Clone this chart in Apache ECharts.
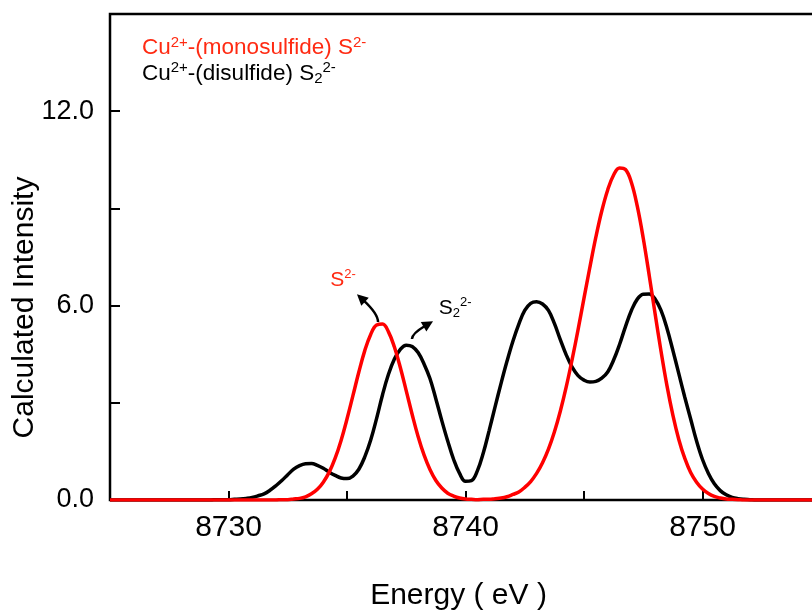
<!DOCTYPE html>
<html>
<head>
<meta charset="utf-8">
<script src="https://cdn.jsdelivr.net/npm/echarts@6/dist/echarts.min.js"></script>
<style>
  html, body { margin: 0; padding: 0; background: #fff; }
  #main { width: 812px; height: 610px; }
</style>
</head>
<body>
<div id="main"></div>
<script>
// energy grid (eV), 0.25 eV steps where the spectra are non-zero
const energy = [
  8725, 8727,
  8729, 8729.25, 8729.5, 8729.75,
  8730, 8730.25, 8730.5, 8730.75,
  8731, 8731.25, 8731.5, 8731.75,
  8732, 8732.25, 8732.5, 8732.75,
  8733, 8733.25, 8733.5, 8733.75,
  8734, 8734.25, 8734.5, 8734.75,
  8735, 8735.25, 8735.5, 8735.75,
  8736, 8736.25, 8736.5, 8736.75,
  8737, 8737.25, 8737.5, 8737.75,
  8738, 8738.25, 8738.5, 8738.75,
  8739, 8739.25, 8739.5, 8739.75,
  8740, 8740.25, 8740.5, 8740.75,
  8741, 8741.25, 8741.5, 8741.75,
  8742, 8742.25, 8742.5, 8742.75,
  8743, 8743.25, 8743.5, 8743.75,
  8744, 8744.25, 8744.5, 8744.75,
  8745, 8745.25, 8745.5, 8745.75,
  8746, 8746.25, 8746.5, 8746.75,
  8747, 8747.25, 8747.5, 8747.75,
  8748, 8748.25, 8748.5, 8748.75,
  8749, 8749.25, 8749.5, 8749.75,
  8750, 8750.25, 8750.5, 8750.75,
  8751, 8751.25, 8751.5, 8751.75,
  8752, 8752.25, 8752.5, 8752.75,
  8753, 8755
]
// Cu2+-(monosulfide) S2-  (red)
const monoS = [
  0, 0,
  0, 0, 0, 0,
  0, 0, 0, 0,
  0, 0, 0, 0,
  0, 0.01, 0.01, 0.03,
  0.05, 0.10, 0.19, 0.33,
  0.55, 0.86, 1.29, 1.84,
  2.5, 3.22, 3.95, 4.61,
  5.11, 5.40, 5.43, 5.19,
  4.72, 4.09, 3.37, 2.64,
  1.96, 1.39, 0.94, 0.60,
  0.37, 0.21, 0.12, 0.06,
  0.03, 0.02, 0.01, 0.02,
  0.02, 0.04, 0.06, 0.10,
  0.17, 0.25, 0.39, 0.57,
  0.82, 1.15, 1.57, 2.10,
  2.74, 3.49, 4.34, 5.26,
  6.23, 7.19, 8.11, 8.92,
  9.57, 10.03, 10.25, 10.20,
  9.8, 9.06, 8.08, 6.94,
  5.75, 4.59, 3.53, 2.62,
  1.87, 1.29, 0.85, 0.55,
  0.34, 0.20, 0.11, 0.06,
  0.03, 0.02, 0.01, 0,
  0, 0, 0, 0,
  0, 0
]
// Cu2+-(disulfide) S2 2-  (black)
const diS = [
  0, 0,
  0, 0, 0.01, 0.01,
  0.01, 0.02, 0.03, 0.05,
  0.08, 0.13, 0.19, 0.3,
  0.44, 0.6, 0.78, 0.95,
  1.06, 1.12, 1.13, 1.07,
  0.98, 0.86, 0.76, 0.68,
  0.66, 0.74, 0.95, 1.33,
  1.85, 2.52, 3.25, 3.88,
  4.35, 4.65, 4.78, 4.74,
  4.55, 4.2, 3.75, 3.12,
  2.45, 1.82, 1.25, 0.82,
  0.58, 0.6, 0.9, 1.45,
  2.15, 2.88, 3.6, 4.28,
  4.9, 5.43, 5.85, 6.07,
  6.12, 6.05, 5.85, 5.45,
  4.95, 4.48, 4.1, 3.84,
  3.7, 3.64, 3.66, 3.76,
  3.95, 4.32, 4.8, 5.35,
  5.85, 6.2, 6.35, 6.36,
  6.2, 5.85, 5.3, 4.62,
  3.9, 3.18, 2.5, 1.82,
  1.25, 0.82, 0.5, 0.29,
  0.16, 0.08, 0.04, 0.02,
  0.01, 0, 0, 0,
  0, 0
]
const xLabelValues = [8730, 8740, 8750]
const yLabelValues = [0, 6, 12]

// annotation arrows: [tail energy, tail intensity, head energy, head intensity]
const arrows = [
  [8736.31, 5.49, 8735.42, 6.35],
  [8737.74, 4.97, 8738.63, 5.52]
]
// annotation label positions: [energy, intensity]
const monoLabelPos = [8734.83, 6.79]
const diLabelPos = [8739.56, 5.92]

const seriesNames = ['Cu2+-(monosulfide) S2-', 'Cu2+-(disulfide) S22-']
const legendRich = {
  'Cu2+-(monosulfide) S2-': '{r|Cu}{rs|2+}{r|-(monosulfide) S}{rs|2-}',
  'Cu2+-(disulfide) S22-': '{k|Cu}{ks|2+}{k|-(disulfide) S}{kb|2}{ks|2-}'
}

const RED = '#ff0000'
const RED_TEXT = '#ff2a12'
const FONT = '"Liberation Sans", Arial, sans-serif'

const chart = echarts.init(document.getElementById('main'), null, { renderer: 'canvas' })

// curved arrow: leaves the tail straight up, bends toward the head
function renderArrow(params, api) {
  const p1 = api.coord([api.value(0), api.value(1)])
  const p2 = api.coord([api.value(2), api.value(3)])
  const cp = [p1[0], p1[1] - 0.3 * (p1[1] - p2[1])]
  let dx = p2[0] - cp[0], dy = p2[1] - cp[1]
  const len = Math.sqrt(dx * dx + dy * dy) || 1
  dx /= len; dy /= len
  const L = 11, W = 5.5
  const bx = p2[0] - dx * L, by = p2[1] - dy * L
  return {
    type: 'group',
    children: [
      {
        type: 'bezierCurve',
        shape: { x1: p1[0], y1: p1[1], x2: bx + dx * 2, y2: by + dy * 2, cpx1: cp[0], cpy1: cp[1] },
        style: { stroke: '#000', lineWidth: 2.5, fill: null }
      },
      {
        type: 'polygon',
        shape: { points: [[p2[0], p2[1]], [bx - dy * W, by + dx * W], [bx + dy * W, by - dx * W]] },
        style: { fill: '#000', stroke: null }
      }
    ]
  }
}

const option = {
  animation: false,
  backgroundColor: '#fff',
  textStyle: { fontFamily: FONT },
  grid: {
    left: 110, right: -9, top: 14, bottom: 110,
    show: true, borderColor: '#000', borderWidth: 2.5,
    outerBoundsMode: 'none'
  },
  legend: {
    orient: 'vertical',
    left: 132, top: 30,
    itemGap: 1,
    icon: 'none',
    itemWidth: 0, itemHeight: 0,
    selectedMode: false,
    data: seriesNames,
    formatter: name => legendRich[name],
    textStyle: {
      rich: {
        r: { color: RED_TEXT, fontSize: 22.5, lineHeight: 26, fontFamily: FONT },
        rs: { color: RED_TEXT, fontSize: 15, lineHeight: 15, verticalAlign: 'top', fontFamily: FONT },
        k: { color: '#000', fontSize: 22.5, lineHeight: 26, fontFamily: FONT },
        ks: { color: '#000', fontSize: 15, lineHeight: 15, verticalAlign: 'top', fontFamily: FONT },
        kb: { color: '#000', fontSize: 15, lineHeight: 15, verticalAlign: 'bottom', fontFamily: FONT }
      }
    }
  },
  xAxis: {
    type: 'value',
    min: 8725, max: 8755, interval: 5,
    name: 'Energy ( eV )',
    nameLocation: 'middle',
    nameGap: 81,
    nameMoveOverlap: false,
    nameTextStyle: { fontSize: 30, color: '#000', fontFamily: FONT, padding: [0, 14, 0, 0] },
    axisLine: { onZero: false, lineStyle: { color: '#000', width: 2 } },
    axisTick: { inside: true, length: 9, lineStyle: { color: '#000', width: 2 } },
    axisLabel: {
      fontSize: 30, color: '#000', margin: 13, fontFamily: FONT,
      formatter: v => xLabelValues.includes(v) ? String(v) : ''
    },
    splitLine: { show: false }
  },
  yAxis: {
    type: 'value',
    min: 0, max: 15, interval: 3,
    name: 'Calculated Intensity',
    nameLocation: 'middle',
    nameRotate: 90,
    nameGap: 70,
    nameMoveOverlap: false,
    nameTextStyle: { fontSize: 30, color: '#000', fontFamily: FONT, padding: [0, 101, 0, 0] },
    axisLine: { lineStyle: { color: '#000', width: 2 } },
    axisTick: { inside: true, length: 10, lineStyle: { color: '#000', width: 2 } },
    axisLabel: {
      fontSize: 27, color: '#000', margin: 16, fontFamily: FONT,
      formatter: v => yLabelValues.includes(v) ? v.toFixed(1) : ''
    },
    splitLine: { show: false }
  },
  series: [
    {
      name: seriesNames[1],
      type: 'line',
      z: 2,
      data: energy.map((e, i) => [e, diS[i]]),
      smooth: 0.4,
      showSymbol: false,
      lineStyle: { color: '#000', width: 3.5 },
      itemStyle: { color: '#000' },
      markPoint: {
        silent: true,
        symbol: 'circle',
        symbolSize: 0,
        itemStyle: { color: 'transparent' },
        label: {
          show: true,
          position: 'inside',
          formatter: '{k|S}{kb|2}{ks|2-}',
          rich: {
            k: { color: '#000', fontSize: 21, lineHeight: 24, fontFamily: FONT },
            ks: { color: '#000', fontSize: 13, lineHeight: 13, verticalAlign: 'top', fontFamily: FONT },
            kb: { color: '#000', fontSize: 13, lineHeight: 13, verticalAlign: 'bottom', fontFamily: FONT }
          }
        },
        data: [{ coord: diLabelPos }]
      }
    },
    {
      name: seriesNames[0],
      type: 'line',
      z: 3,
      data: energy.map((e, i) => [e, monoS[i]]),
      smooth: 0.4,
      showSymbol: false,
      lineStyle: { color: RED, width: 3.5 },
      itemStyle: { color: RED },
      markPoint: {
        silent: true,
        symbol: 'circle',
        symbolSize: 0,
        itemStyle: { color: 'transparent' },
        label: {
          show: true,
          position: 'inside',
          formatter: '{r|S}{rs|2-}',
          rich: {
            r: { color: RED_TEXT, fontSize: 21, lineHeight: 24, fontFamily: FONT },
            rs: { color: RED_TEXT, fontSize: 13, lineHeight: 13, verticalAlign: 'top', fontFamily: FONT }
          }
        },
        data: [{ coord: monoLabelPos }]
      }
    },
    {
      name: 'arrows',
      type: 'custom',
      z: 4,
      silent: true,
      clip: false,
      renderItem: renderArrow,
      encode: { x: [0, 2], y: [1, 3] },
      data: arrows
    }
  ]
}

chart.setOption(option)
</script>
</body>
</html>
